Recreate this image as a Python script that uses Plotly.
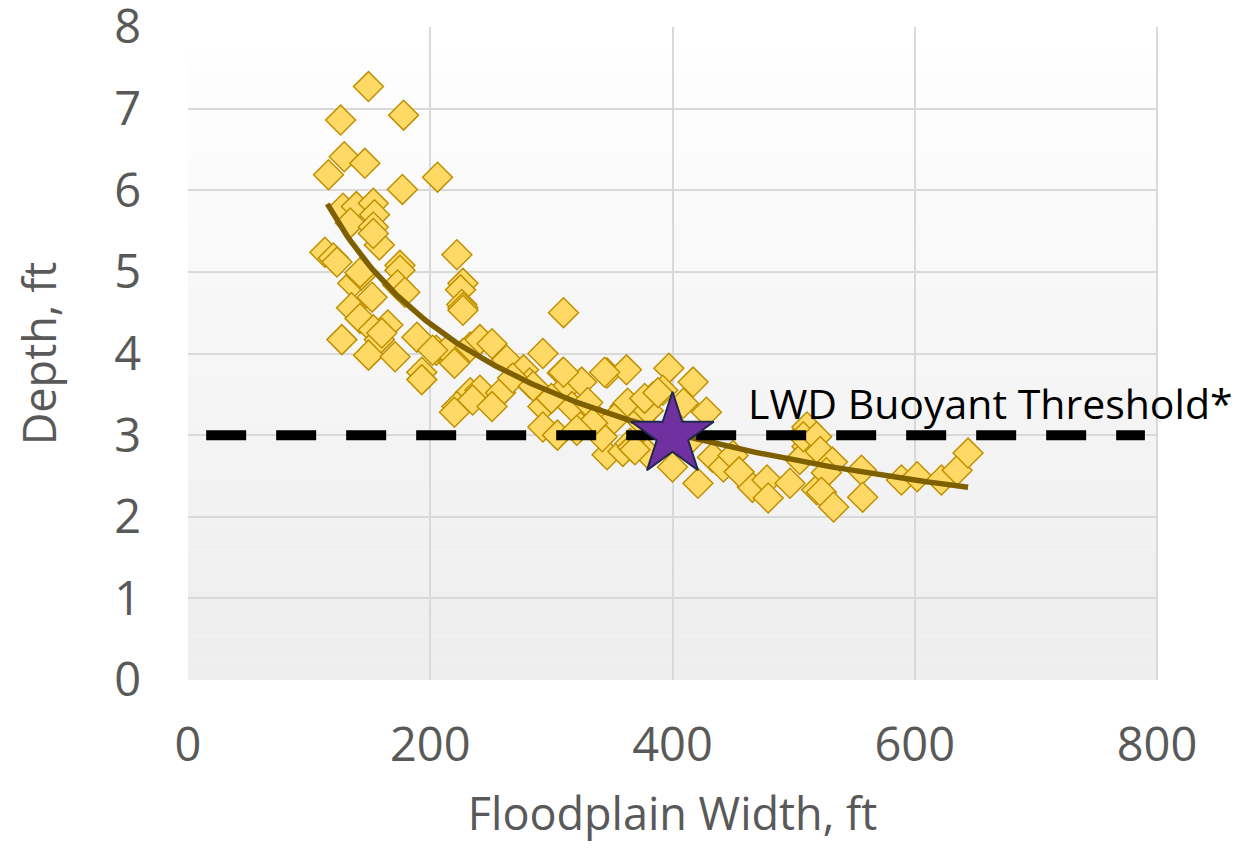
import numpy as np
import plotly.graph_objects as go

# floodplain width (ft) and depth (ft)
width_ft = [149, 126, 178, 129, 146, 116, 177, 206, 128, 139, 153, 154, 134, 153,
            113, 120, 158, 175, 175, 222, 227, 225, 226, 173, 179, 123, 153, 136,
            143, 152, 227, 135, 142, 165, 153, 127, 158, 189, 149, 171, 205, 193,
            193, 219, 227, 233, 222, 214, 220, 233, 241, 251, 263, 277, 293, 241,
            235, 258, 251, 220, 282, 293, 309, 310, 325, 317, 293, 305, 324, 338,
            346, 362, 361, 346, 359, 342, 365, 397, 417, 363, 384, 392, 409, 428,
            373, 367, 379, 400, 421, 433, 442, 466, 478, 479, 497, 509, 511, 505,
            519, 511, 508, 519, 522, 532, 527, 523, 533, 556, 557, 589, 602, 622,
            635, 644, 227, 310, 268, 285, 300, 330, 352, 380, 405, 415, 450, 455,
            142, 160, 202, 377, 388, 369, 334, 321, 344, 310]
depth_ft = [7.27, 6.86, 6.92, 6.41, 6.33, 6.19, 6.01, 6.16, 5.78, 5.80, 5.84, 5.70, 5.60, 5.55,
            5.24, 5.17, 5.33, 5.08, 5.02, 5.21, 4.86, 4.78, 4.60, 4.84, 4.75, 5.12, 5.47, 4.86,
            4.96, 4.69, 4.56, 4.56, 4.43, 4.35, 4.29, 4.17, 4.17, 4.20, 3.98, 3.96, 4.04, 3.77,
            3.68, 3.90, 4.00, 3.52, 3.35, 4.04, 3.88, 4.08, 4.17, 4.12, 3.92, 3.80, 4.00, 3.55,
            3.43, 3.52, 3.35, 3.28, 3.64, 3.35, 3.76, 3.55, 3.65, 3.35, 3.10, 3.00, 3.10, 3.19,
            3.76, 3.80, 3.35, 2.76, 2.80, 2.98, 2.90, 3.82, 3.65, 3.39, 3.47, 3.55, 3.39, 3.28,
            3.19, 2.85, 2.78, 2.61, 2.41, 2.73, 2.61, 2.36, 2.45, 2.23, 2.41, 3.03, 2.86, 2.70,
            2.33, 3.10, 2.98, 2.98, 2.80, 2.67, 2.54, 2.30, 2.12, 2.57, 2.24, 2.45, 2.49, 2.45,
            2.57, 2.78, 4.53, 4.50, 3.70, 3.60, 3.45, 3.40, 3.20, 3.30, 3.05, 2.95, 2.75, 2.55,
            4.99, 4.25, 4.04, 3.45, 3.52, 2.82, 3.15, 3.06, 3.77, 3.77]

threshold_x = [15, 790]
threshold_y = [3, 3]
site_x = [400]
site_y = [3]

# Excel-style power trendline fitted to the points
b, ln_a = np.polyfit(np.log(width_ft), np.log(depth_ft), 1)
trend_x = np.linspace(min(width_ft) + 2, max(width_ft), 200)
trend_y = np.exp(ln_a) * trend_x ** b

GRAY = "#595959"
FONT = "Open Sans"

fig = go.Figure()
fig.add_trace(go.Scatter(x=width_ft, y=depth_ft, mode="markers",
                         marker=dict(symbol="diamond", size=23, color="#FFD966",
                                     line=dict(color="#BF9000", width=1.5))))
fig.add_trace(go.Scatter(x=trend_x, y=trend_y, mode="lines",
                         line=dict(color="#7F6000", width=5.5)))
fig.add_trace(go.Scatter(x=threshold_x, y=threshold_y, mode="lines",
                         line=dict(color="black", width=10, dash="40px,30px")))
fig.add_trace(go.Scatter(x=site_x, y=site_y, mode="markers",
                         marker=dict(symbol="star", size=62, color="#7030A0",
                                     line=dict(color="#1F2A4F", width=2))))

fig.add_annotation(x=461, y=3.39, text="LWD Buoyant Threshold*", showarrow=False,
                   xanchor="left", yanchor="middle",
                   font=dict(family=FONT, size=41, color="black"))

# soft vertical gradient behind the plot area
n = 30
for i in range(n):
    g = int(255 - 17 * i / (n - 1))
    fig.add_shape(type="rect", xref="x domain", yref="y domain",
                  x0=0, x1=1, y0=1 - (i + 1) / n, y1=1 - i / n,
                  fillcolor=f"rgb({g},{g},{g})", line_width=0, layer="below")

# page body adds 8px, so margins are shifted to land the plot area in place
fig.update_layout(
    width=1246, height=848,
    margin=dict(l=180, r=97, t=19, b=176),
    paper_bgcolor="white", plot_bgcolor="white",
    showlegend=False,
    font=dict(family=FONT, color=GRAY),
)
fig.update_xaxes(range=[0, 800], dtick=200, showgrid=True, gridcolor="#D9D9D9",
                 gridwidth=2, zeroline=False, showline=False, ticks="",
                 tickfont=dict(size=47, color=GRAY), ticklabelstandoff=33,
                 ticklabeloverflow="allow", automargin=False,
                 title=dict(text="Floodplain Width, ft", font=dict(size=45, color=GRAY),
                            standoff=24),
                 layer="below traces")
fig.update_yaxes(range=[0, 8], dtick=1, showgrid=True, gridcolor="#D9D9D9",
                 gridwidth=2, zeroline=False, showline=False, ticks="",
                 tickfont=dict(size=47, color=GRAY), ticklabelstandoff=46,
                 ticklabeloverflow="allow", automargin=False,
                 title=dict(text="Depth, ft", font=dict(size=45, color=GRAY),
                            standoff=58),
                 layer="below traces")
# right edge also carries a gridline in the original
fig.add_shape(type="line", xref="x domain", yref="y domain", x0=1, x1=1, y0=0, y1=1,
              line=dict(color="#D9D9D9", width=2), layer="below")

fig.write_html("out.html")
